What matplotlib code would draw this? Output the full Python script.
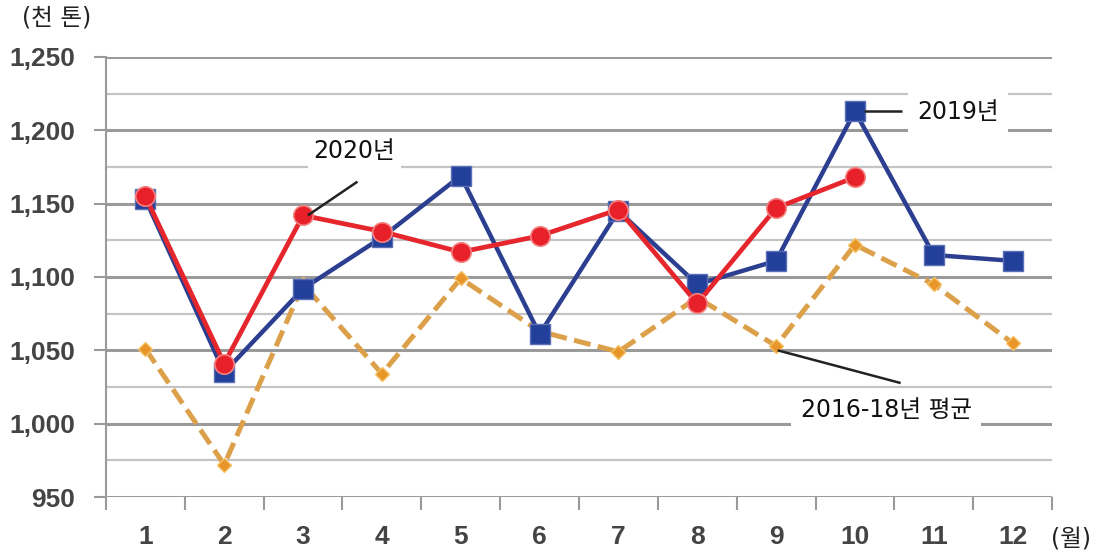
import matplotlib
matplotlib.use("Agg")
import matplotlib.pyplot as plt
from matplotlib.ticker import FixedLocator

plt.rcParams['font.family'] = ['DejaVu Sans', 'Noto Sans CJK KR']

# Monthly volume (thousand tonnes)
months = list(range(1, 13))
month_labels = [str(m) for m in months]
avg_2016_18 = [1051, 972, 1095, 1034, 1099, 1063, 1049, 1086, 1053, 1122, 1095, 1055]
y2019 = [1153, 1035, 1092, 1127, 1169, 1061, 1145, 1095, 1111, 1213, 1115, 1111]
y2020 = [1155, 1041, 1142, 1131, 1117, 1128, 1146, 1082, 1147, 1168]
y_ticks = [950, 1000, 1050, 1100, 1150, 1200, 1250]
y_tick_labels = ['950', '1,000', '1,050', '1,100', '1,150', '1,200', '1,250']

fig = plt.figure(figsize=(10.97, 5.51), dpi=100)
ax = fig.add_axes([0.0966, 0.098, 0.8624, 0.7986])

ax.set_xlim(0.5, 12.5)
ax.set_ylim(950, 1250)

# grid: strong lines every 50, lighter ones every 25
for v in range(950, 1251, 25):
    major = (v % 50 == 0)
    ax.axhline(v, color='#9a9a9a' if major else '#c4c4c4',
               lw=2.2 if major else 1.6, zorder=0)

ax.plot(months, avg_2016_18, color='#DDA04A', lw=3.6, ls=(0, (3.4, 1.5)),
        marker='D', ms=7, mfc='#E8962A', mec='#F5C060', mew=1, zorder=2)
ax.plot(months, y2019, color='#2B3E8F', lw=3.2,
        marker='s', ms=14, mfc='#22409A', mec='#5a6fb5', mew=1, zorder=3)
ax.plot(months[:len(y2020)], y2020, color='#E5262C', lw=3.4,
        marker='o', ms=14, mfc='#E8202A', mec='#F48080', mew=1.2, zorder=4)

for s in ['top', 'right', 'bottom']:
    ax.spines[s].set_visible(False)
ax.spines['left'].set_color('#9a9a9a')
ax.spines['left'].set_linewidth(1.5)

tick_font = dict(family=['Liberation Sans Narrow', 'Liberation Sans', 'DejaVu Sans'],
                 size=19, color='#444444', weight='bold')

ax.set_yticks(y_ticks)
ax.set_yticklabels(y_tick_labels, **tick_font)
ax.tick_params(axis='y', length=9, width=1.5, color='#9a9a9a', pad=13)

ax.set_xticks(months)
ax.set_xticklabels(month_labels, **tick_font)
ax.xaxis.set_minor_locator(FixedLocator([m - 0.5 for m in months] + [12.5]))
ax.tick_params(axis='x', which='major', length=0, pad=20)
ax.tick_params(axis='x', which='minor', length=9, width=1.5, color='#9a9a9a')

# series labels with leader lines
lead = dict(color='#222222', lw=1.8, solid_capstyle='butt', zorder=6)
ax.plot([3.06, 3.69], [1142, 1165], **lead)
ax.text(3.65, 1186, '2020년', fontsize=17, ha='center', va='center',
        color='#111111',
        bbox=dict(boxstyle='square,pad=0.25', fc='white', ec='none'), zorder=6)

ax.plot([10.12, 10.6], [1213, 1213], **lead)
ax.text(11.31, 1212.5, '2019년', fontsize=17, ha='center', va='center',
        color='#111111',
        bbox=dict(boxstyle='square,pad=0.4', fc='white', ec='none'), zorder=6)

ax.plot([9.02, 10.58], [1050, 1027.7], **lead)
ax.text(10.4, 1009, '2016-18년 평균', fontsize=17, ha='center', va='center',
        color='#111111',
        bbox=dict(boxstyle='square,pad=0.4', fc='white', ec='none'), zorder=6)

fig.text(57 / 1097, 1 - 17 / 551, '(천 톤)', fontsize=17, ha='center',
         va='center', color='#222222')
fig.text(1071 / 1097, 1 - 539 / 551, '(월)', fontsize=17, ha='center',
         va='center', color='#222222')

fig.savefig('out.png', dpi=100)
